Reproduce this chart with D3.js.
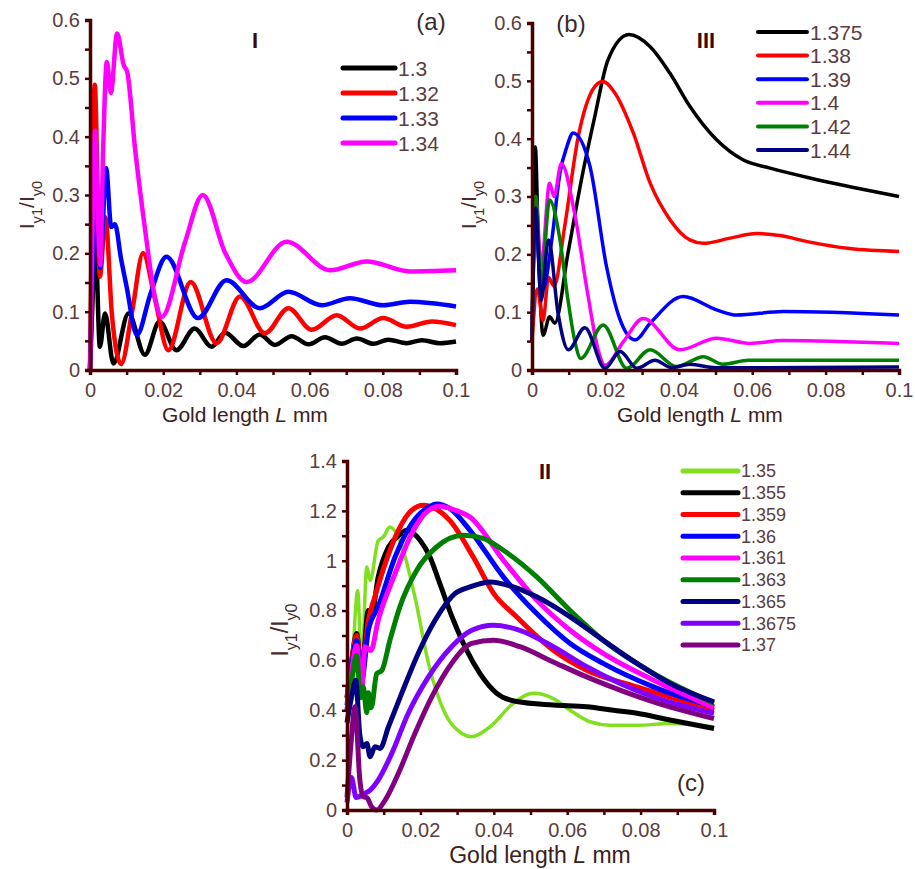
<!DOCTYPE html>
<html>
<head>
<meta charset="utf-8">
<script src="https://cdn.jsdelivr.net/npm/d3@7"></script>
<style>
body { margin: 0; background: #fff; }
svg text { font-family: "Liberation Sans", Arial, sans-serif; }
</style>
</head>
<body>
<svg id="chart" width="915" height="869"></svg>
<script>

// ---- tick labels ----
var xTickValues = [0, 0.02, 0.04, 0.06, 0.08, 0.1];
var xTickLabels = ["0", "0.02", "0.04", "0.06", "0.08", "0.1"];
var yTickValuesTop = [0, 0.1, 0.2, 0.3, 0.4, 0.5, 0.6];
var yTickLabelsTop = ["0", "0.1", "0.2", "0.3", "0.4", "0.5", "0.6"];
var yTickValuesC = [0, 0.2, 0.4, 0.6, 0.8, 1, 1.2, 1.4];
var yTickLabelsC = ["0", "0.2", "0.4", "0.6", "0.8", "1", "1.2", "1.4"];

// ---- panel (a), region I ----
var namesA = ["1.3", "1.32", "1.33", "1.34"];
var colorsA = ["#000000", "#ff0000", "#0000ff", "#ff00ff"];
var a130 = [[0,0],[0.0007,0.12],[0.0014,0.234],[0.0027,0.04],[0.0041,0.097],[0.0064,0.011],[0.0105,0.097],[0.015,0.026],[0.019,0.083],[0.0236,0.034],[0.0286,0.071],[0.0332,0.04],[0.0369,0.064],[0.0419,0.041],[0.0464,0.061],[0.0505,0.043],[0.0551,0.058],[0.0597,0.044],[0.0642,0.056],[0.0688,0.045],[0.0729,0.054],[0.0774,0.045],[0.0815,0.052],[0.0865,0.046],[0.0907,0.051],[0.0956,0.046],[0.1,0.049]];
var a132 = [[0,0],[0.0006,0.3],[0.0013,0.489],[0.0027,0.16],[0.0042,0.262],[0.006,0.094],[0.0085,0.01],[0.0115,0.1],[0.0145,0.2],[0.0178,0.12],[0.0214,0.034],[0.0275,0.151],[0.0346,0.046],[0.041,0.126],[0.0478,0.063],[0.0542,0.106],[0.0606,0.069],[0.0674,0.094],[0.0738,0.071],[0.0801,0.089],[0.0865,0.074],[0.0934,0.083],[0.1,0.077]];
var a133 = [[0,0],[0.0008,0.2],[0.0016,0.3],[0.0028,0.175],[0.0044,0.346],[0.0058,0.245],[0.0068,0.25],[0.0085,0.19],[0.01,0.143],[0.0128,0.06],[0.0165,0.13],[0.0209,0.194],[0.0295,0.089],[0.0373,0.154],[0.0464,0.106],[0.0542,0.134],[0.0633,0.111],[0.071,0.123],[0.0801,0.111],[0.0874,0.117],[0.1,0.109]];
var a134 = [[0,0],[0.0007,0.25],[0.0014,0.41],[0.0022,0.25],[0.0028,0.18],[0.0036,0.38],[0.0046,0.528],[0.0057,0.475],[0.0074,0.577],[0.0092,0.523],[0.0102,0.51],[0.0123,0.38],[0.015,0.243],[0.0178,0.123],[0.0196,0.091],[0.026,0.22],[0.0308,0.3],[0.037,0.2],[0.0428,0.151],[0.0537,0.22],[0.0656,0.171],[0.0756,0.186],[0.0874,0.169],[0.1,0.171]];

// ---- panel (b), region III ----
var namesB = ["1.375", "1.38", "1.39", "1.4", "1.42", "1.44"];
var colorsB = ["#000000", "#ff0000", "#0000ff", "#ff00ff", "#008000", "#000080"];
var b1375 = [[0,0.05],[0.0009,0.386],[0.0018,0.2],[0.003,0.06],[0.0048,0.092],[0.0062,0.081],[0.0098,0.202],[0.0135,0.33],[0.0171,0.438],[0.0207,0.536],[0.0264,0.58],[0.0322,0.559],[0.0376,0.513],[0.043,0.456],[0.0503,0.398],[0.0576,0.363],[0.0649,0.349],[0.0757,0.332],[0.0866,0.317],[0.1,0.3]];
var b138 = [[0,0.05],[0.0015,0.14],[0.003,0.085],[0.0045,0.16],[0.006,0.145],[0.0089,0.248],[0.0125,0.4],[0.0171,0.49],[0.0193,0.499],[0.0225,0.48],[0.0276,0.41],[0.0322,0.323],[0.0376,0.26],[0.043,0.225],[0.0467,0.219],[0.054,0.228],[0.0612,0.236],[0.068,0.232],[0.075,0.222],[0.0866,0.21],[0.1,0.205]];
var b139 = [[0,0.06],[0.001,0.28],[0.002,0.17],[0.003,0.14],[0.0054,0.225],[0.0076,0.34],[0.0095,0.386],[0.0112,0.41],[0.0158,0.352],[0.0203,0.179],[0.024,0.087],[0.0281,0.052],[0.0322,0.081],[0.0412,0.127],[0.0503,0.104],[0.0558,0.095],[0.0685,0.101],[0.1,0.095]];
var b140 = [[0,0.05],[0.001,0.3],[0.0025,0.18],[0.0048,0.323],[0.006,0.3],[0.008,0.357],[0.0116,0.271],[0.0153,0.127],[0.018,0.035],[0.0199,0.008],[0.025,0.05],[0.0303,0.089],[0.0403,0.035],[0.0503,0.055],[0.0594,0.046],[0.0684,0.051],[0.1,0.046]];
var b142 = [[0,0.055],[0.001,0.3],[0.0025,0.15],[0.0048,0.294],[0.0075,0.23],[0.0098,0.121],[0.0116,0.052],[0.0133,0.02],[0.0194,0.078],[0.0258,0.003],[0.0322,0.035],[0.0394,0.006],[0.0467,0.023],[0.052,0.01],[0.059,0.017],[0.1,0.017]];
var b144 = [[0,0.05],[0.001,0.28],[0.0025,0.12],[0.0045,0.225],[0.0071,0.098],[0.0099,0.035],[0.0144,0.073],[0.0199,0.003],[0.024,0.032],[0.0286,0.003],[0.0335,0.017],[0.038,0.004],[0.043,0.01],[0.05,0.004],[0.1,0.005]];

// ---- panel (c), region II ----
var namesC = ["1.35", "1.355", "1.359", "1.36", "1.361", "1.363", "1.365", "1.3675", "1.37"];
var colorsC = ["#80e020", "#000000", "#ff0000", "#0000ff", "#ff00ff", "#008000", "#000080", "#8000ff", "#800080"];
var c1350 = [[0,0.3],[0.0015,0.6],[0.0029,0.88],[0.004,0.575],[0.0054,0.975],[0.0063,0.92],[0.0085,1.08],[0.0099,1.095],[0.0117,1.135],[0.0153,1.042],[0.0185,0.855],[0.0222,0.588],[0.0267,0.388],[0.0313,0.307],[0.034,0.294],[0.039,0.334],[0.0453,0.428],[0.0508,0.468],[0.0562,0.447],[0.0608,0.4],[0.0662,0.354],[0.0717,0.34],[0.079,0.34],[0.088,0.347],[0.1,0.334]];
var c1355 = [[0,0.45],[0.0013,0.6],[0.0026,0.708],[0.004,0.55],[0.0058,0.8],[0.0066,0.775],[0.0085,0.935],[0.0113,1.055],[0.014,1.1],[0.0163,1.122],[0.0199,1.082],[0.0226,1.015],[0.0253,0.908],[0.029,0.761],[0.0326,0.641],[0.0362,0.548],[0.0408,0.468],[0.0462,0.435],[0.0562,0.421],[0.0653,0.414],[0.0726,0.4],[0.079,0.388],[0.088,0.361],[0.1,0.327]];
var c1359 = [[0,0.45],[0.0013,0.6],[0.0026,0.7],[0.004,0.55],[0.0058,0.76],[0.0076,0.855],[0.0104,0.988],[0.014,1.122],[0.0176,1.202],[0.0208,1.222],[0.028,1.162],[0.0344,1.015],[0.04,0.868],[0.0462,0.775],[0.0562,0.641],[0.0653,0.561],[0.079,0.494],[0.1,0.4]];
var c1360 = [[0,0.42],[0.0013,0.58],[0.0026,0.68],[0.004,0.52],[0.0058,0.72],[0.0085,0.815],[0.0131,1.015],[0.0176,1.148],[0.0222,1.215],[0.0244,1.228],[0.028,1.21],[0.0335,1.122],[0.0426,0.935],[0.0517,0.788],[0.0608,0.668],[0.0698,0.588],[0.0835,0.494],[0.1,0.415]];
var c1361 = [[0,0.4],[0.0013,0.56],[0.0026,0.66],[0.004,0.48],[0.0049,0.655],[0.0065,0.64],[0.0085,0.761],[0.0131,0.948],[0.0176,1.108],[0.0222,1.202],[0.0254,1.218],[0.029,1.205],[0.0335,1.175],[0.0426,1.002],[0.0517,0.842],[0.0608,0.721],[0.0698,0.628],[0.0835,0.521],[0.1,0.41]];
var c1363 = [[0,0.4],[0.0013,0.52],[0.0026,0.62],[0.0037,0.45],[0.0044,0.494],[0.0054,0.39],[0.0058,0.47],[0.0066,0.41],[0.0081,0.547],[0.0095,0.56],[0.0117,0.681],[0.0144,0.815],[0.019,0.962],[0.0244,1.055],[0.0317,1.102],[0.0371,1.09],[0.0426,1.042],[0.0517,0.935],[0.0608,0.8],[0.0698,0.681],[0.0835,0.548],[0.1,0.428]];
var c1365 = [[0,0.35],[0.0012,0.45],[0.0024,0.52],[0.0035,0.3],[0.0044,0.254],[0.0054,0.267],[0.0063,0.214],[0.0076,0.254],[0.009,0.247],[0.0113,0.334],[0.0149,0.468],[0.0194,0.628],[0.024,0.761],[0.0294,0.868],[0.0335,0.895],[0.039,0.915],[0.0453,0.895],[0.0517,0.855],[0.0608,0.775],[0.0698,0.681],[0.079,0.588],[0.088,0.508],[0.1,0.434]];
var c13675 = [[0,0.03],[0.0012,0.13],[0.0025,0.05],[0.0049,0.067],[0.0063,0.08],[0.0085,0.12],[0.0122,0.227],[0.0167,0.388],[0.0222,0.534],[0.0285,0.655],[0.034,0.721],[0.0399,0.741],[0.0471,0.721],[0.0562,0.655],[0.0653,0.575],[0.0744,0.508],[0.0835,0.454],[0.1,0.388]];
var c1370 = [[0,0.05],[0.001,0.25],[0.0022,0.414],[0.0035,0.12],[0.0044,0.053],[0.0054,0.05],[0.0067,0.013],[0.0081,0],[0.0104,0.04],[0.014,0.147],[0.0185,0.307],[0.0231,0.454],[0.0285,0.588],[0.034,0.668],[0.0399,0.681],[0.0471,0.655],[0.0562,0.594],[0.0653,0.534],[0.0744,0.481],[0.0835,0.434],[0.1,0.367]];

var axisColor = "#4a0000";
var labelColor = "#5c3d3d";

var svg = d3.select("#chart");
svg.append("rect").attr("width", 915).attr("height", 869).attr("fill", "#fff");

function drawPanel(p) {
    var x = d3.scaleLinear().domain([0, 0.1]).range([p.left, p.right]);
    var y = d3.scaleLinear().domain([0, p.yMax]).range([p.bottom, p.top]);
    var g = svg.append("g");

    var line = d3.line()
        .x(function(d) { return x(d[0]); })
        .y(function(d) { return y(d[1]); })
        .curve(d3.curveMonotoneX);

    // curves
    p.series.forEach(function(s, i) {
        g.append("path")
            .datum(s)
            .attr("fill", "none")
            .attr("stroke", p.colors[i])
            .attr("stroke-width", p.widths ? p.widths[i] : p.lineWidth)
            .attr("stroke-linejoin", "round")
            .attr("d", line);
    });

    // axes; minor ticks without labels
    var xMinor = d3.range(0, 0.1001, 0.01);
    var xAxis = d3.axisBottom(x)
        .tickValues(xMinor)
        .tickSizeOuter(0)
        .tickSize(5)
        .tickPadding(8)
        .tickFormat(function(d) {
            var k = xTickValues.findIndex(function(v) { return Math.abs(v - d) < 1e-9; });
            return k < 0 ? "" : xTickLabels[k];
        });
    var yMinor = d3.range(0, p.yMax + 1e-9, p.yMinorStep);
    var yAxis = d3.axisLeft(y)
        .tickValues(yMinor)
        .tickSizeOuter(0)
        .tickSize(5)
        .tickPadding(5)
        .tickFormat(function(d) {
            var k = p.yTicks.findIndex(function(v) { return Math.abs(v - d) < 1e-9; });
            return k < 0 ? "" : p.yLabels[k];
        });

    var ax = g.append("g").attr("transform", "translate(0," + p.bottom + ")").call(xAxis);
    var ay = g.append("g").attr("transform", "translate(" + p.left + ",0)").call(yAxis);
    [ax, ay].forEach(function(a) {
        a.select(".domain").attr("stroke", axisColor).attr("stroke-width", 3.5);
        a.selectAll(".tick line").attr("stroke", axisColor).attr("stroke-width", 2.5);
        a.selectAll(".tick text").attr("fill", labelColor)
            .style("font-size", p.tickFont + "px");
    });

    // axis titles
    var xt = g.append("text")
        .attr("x", p.xTitleX).attr("y", p.xTitleY)
        .attr("text-anchor", "middle")
        .attr("fill", "#3a2020")
        .style("font-size", p.titleFont + "px");
    xt.append("tspan").text("Gold length ");
    xt.append("tspan").style("font-style", "italic").text("L");
    xt.append("tspan").text(" mm");

    var yt = g.append("text")
        .attr("transform", "translate(" + p.yTitleX + "," + p.yTitleY + ") rotate(-90)")
        .attr("text-anchor", "middle")
        .attr("fill", "#4a2a2a")
        .style("font-size", p.titleFont + "px");
    yt.append("tspan").text("I");
    yt.append("tspan").attr("baseline-shift", "sub").style("font-size", (p.titleFont * 0.7) + "px").text("y1");
    yt.append("tspan").text("/I");
    yt.append("tspan").attr("baseline-shift", "sub").style("font-size", (p.titleFont * 0.7) + "px").text("y0");

    // region numeral and panel letter
    g.append("text")
        .attr("x", p.romanX).attr("y", p.romanY)
        .attr("text-anchor", "middle")
        .attr("fill", "#3a0a0a")
        .style("font-size", "22px").style("font-weight", "bold")
        .text(p.roman);
    g.append("text")
        .attr("x", p.letterX).attr("y", p.letterY)
        .attr("text-anchor", "middle")
        .attr("fill", "#3a2a2a")
        .style("font-size", "24px")
        .text(p.letter);

    // legend
    p.names.forEach(function(n, i) {
        var ly = p.legY + i * p.legStep;
        g.append("line")
            .attr("x1", p.legX).attr("x2", p.legX + p.legLen)
            .attr("y1", ly).attr("y2", ly)
            .attr("stroke", p.colors[i])
            .attr("stroke-width", p.legWidth)
            .attr("stroke-linecap", "round");
        g.append("text")
            .attr("x", p.legX + p.legLen + 3).attr("y", ly)
            .attr("dy", "0.36em")
            .attr("fill", labelColor)
            .style("font-size", p.legFont + "px")
            .text(n);
    });
}

drawPanel({
    left: 90, right: 456, top: 20, bottom: 370, yMax: 0.6, yMinorStep: 0.05,
    yTicks: yTickValuesTop, yLabels: yTickLabelsTop,
    series: [a130, a132, a133, a134], names: namesA, colors: colorsA, lineWidth: 4.5,
    tickFont: 20, titleFont: 21,
    xTitleX: 245, xTitleY: 422, yTitleX: 34, yTitleY: 205,
    roman: "I", romanX: 255, romanY: 48, letter: "(a)", letterX: 431, letterY: 30,
    legX: 343, legY: 68, legStep: 25, legLen: 52, legWidth: 5, legFont: 21
});

drawPanel({
    left: 532, right: 899, top: 23, bottom: 370, yMax: 0.6, yMinorStep: 0.05,
    yTicks: yTickValuesTop, yLabels: yTickLabelsTop,
    series: [b1375, b138, b139, b140, b142, b144], names: namesB, colors: colorsB, lineWidth: 3.5,
    tickFont: 20, titleFont: 21,
    xTitleX: 700, xTitleY: 422, yTitleX: 476, yTitleY: 205,
    roman: "III", romanX: 706, romanY: 48, letter: "(b)", letterX: 571, letterY: 32,
    legX: 758, legY: 32, legStep: 23.6, legLen: 49, legWidth: 4, legFont: 21
});

drawPanel({
    left: 347, right: 714, top: 461, bottom: 810, yMax: 1.4, yMinorStep: 0.1,
    yTicks: yTickValuesC, yLabels: yTickLabelsC,
    series: [c1350, c1355, c1359, c1360, c1361, c1363, c1365, c13675, c1370], names: namesC, colors: colorsC,
    widths: [3.5, 5, 5, 5, 5, 5, 5, 5, 5],
    tickFont: 20, titleFont: 23,
    xTitleX: 540, xTitleY: 863, yTitleX: 288, yTitleY: 630,
    roman: "II", romanX: 545, romanY: 479, letter: "(c)", letterX: 691, letterY: 791,
    legX: 683, legY: 471, legStep: 21.75, legLen: 55, legWidth: 5, legFont: 18
});

</script>
</body>
</html>
